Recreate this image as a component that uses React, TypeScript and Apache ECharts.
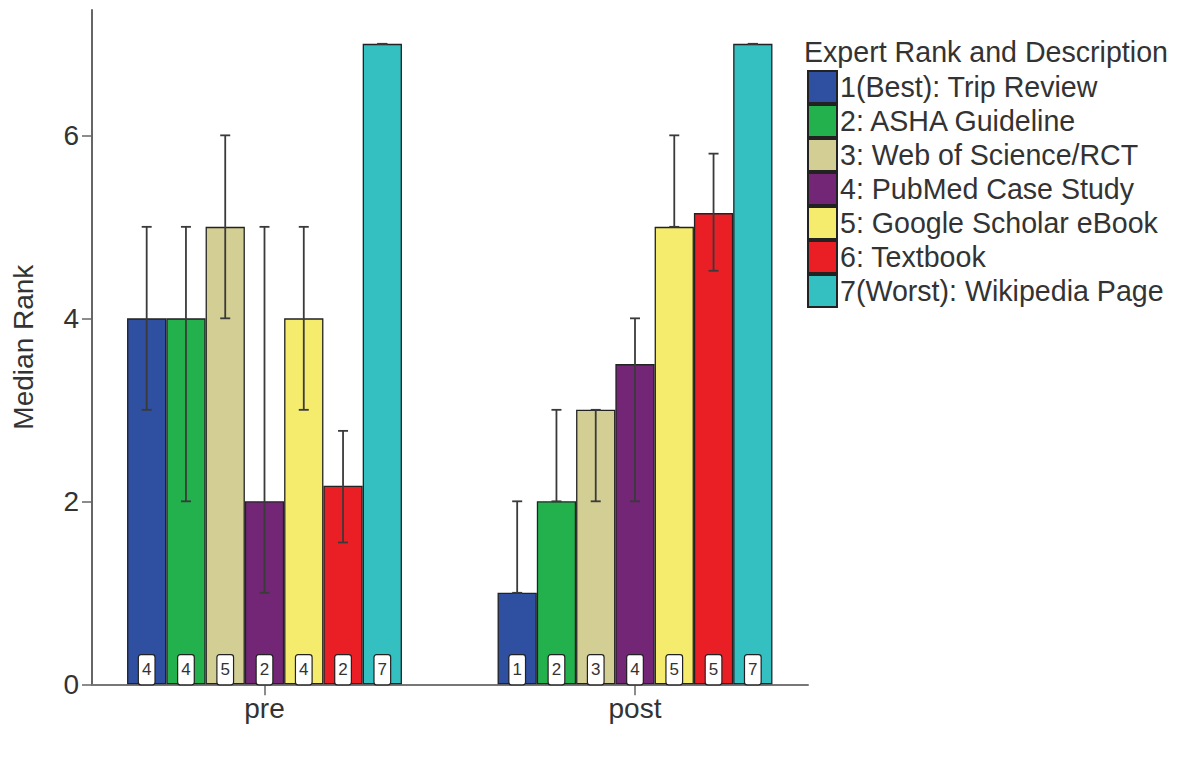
import React, { useEffect, useRef } from "react";
import * as echarts from "echarts";

// Phases of the study
const phases = ["pre", "post"];

// Sources, in expert rank order
const sources = [
  "1(Best): Trip Review",
  "2: ASHA Guideline",
  "3: Web of Science/RCT",
  "4: PubMed Case Study",
  "5: Google Scholar eBook",
  "6: Textbook",
  "7(Worst): Wikipedia Page",
];

const sourceColors = ["#2f4fa0", "#22b14c", "#d3ce93", "#722675", "#f5ec6e", "#ea1f26", "#34bfc1"];

// Median rank per source: [pre, post]
const medianPre = [4, 4, 5, 2, 4, 2.17, 7];
const medianPost = [1, 2, 3, 3.5, 5, 5.15, 7];

// Error bar extents per source
const lowPre = [3, 2, 4, 1, 3, 1.55, 7];
const highPre = [5, 5, 6, 5, 5, 2.77, 7];
const lowPost = [1, 2, 2, 2, 5, 4.52, 7];
const highPost = [2, 3, 3, 4, 6, 5.8, 7];

const yTicks = [0, 2, 4, 6];
const Y_MAX = 7.37;

const FONT = "'Liberation Sans', Arial, Helvetica, sans-serif";
const CATEGORY_GAP = 0.258;

export default function App() {
  const ref = useRef<HTMLDivElement>(null);

  useEffect(() => {
    if (!ref.current) return;
    const chart = echarts.init(ref.current, undefined, { renderer: "svg" });

    const barSeries = sources.map((name, i) => ({
      name,
      type: "bar",
      xAxisIndex: 0,
      yAxisIndex: 0,
      barGap: "0%",
      barCategoryGap: `${CATEGORY_GAP * 100}%`,
      data: [medianPre[i], medianPost[i]],
      itemStyle: { color: sourceColors[i], borderColor: "#222", borderWidth: 1.3 },
      label: {
        show: true,
        position: "insideBottom",
        distance: 0,
        formatter: (p: any) => String(Math.round(p.value)),
        backgroundColor: "#ffffff",
        borderColor: "#222",
        borderWidth: 1.2,
        borderRadius: 2,
        padding: [6, 3, 6, 3],
        fontSize: 17,
        lineHeight: 17,
        color: "#333",
        fontFamily: FONT,
      },
      z: 2,
    }));

    const errData: number[][] = [];
    sources.forEach((_, i) => {
      errData.push([0, i, lowPre[i], highPre[i]]);
      errData.push([1, i, lowPost[i], highPost[i]]);
    });

    const errorSeries = {
      type: "custom",
      xAxisIndex: 0,
      yAxisIndex: 0,
      z: 5,
      silent: true,
      data: errData,
      renderItem: (_params: any, api: any) => {
        const cat = api.value(0);
        const s = api.value(1);
        const lo = api.value(2);
        const hi = api.value(3);
        const band = api.size([1, 0])[0];
        const bw = (band * (1 - CATEGORY_GAP)) / sources.length;
        const base = api.coord([cat, 0]);
        const cx = base[0] + (s - (sources.length - 1) / 2) * bw;
        const yLo = api.coord([cat, lo])[1];
        const yHi = api.coord([cat, hi])[1];
        const cap = 5;
        const style = { stroke: "#3a3a3a", lineWidth: 1.8 };
        return {
          type: "group",
          children: [
            { type: "line", shape: { x1: cx, y1: yLo, x2: cx, y2: yHi }, style },
            { type: "line", shape: { x1: cx - cap, y1: yHi, x2: cx + cap, y2: yHi }, style },
            { type: "line", shape: { x1: cx - cap, y1: yLo, x2: cx + cap, y2: yLo }, style },
          ],
        };
      },
    };

    chart.setOption({
      animation: false,
      backgroundColor: "#ffffff",
      textStyle: { fontFamily: FONT },
      grid: [
        { left: 79.25, width: 741, top: 10, bottom: 73.7 },
        { left: 92, width: 716, top: 10, bottom: 73.7 },
      ],
      xAxis: [
        {
          type: "category",
          gridIndex: 0,
          data: phases,
          axisLine: { show: false },
          axisTick: { show: true, alignWithLabel: true, length: 11, lineStyle: { color: "#666", width: 1.5 } },
          axisLabel: { fontSize: 28, color: "#333", margin: 10, fontFamily: FONT },
        },
        {
          type: "value",
          gridIndex: 1,
          min: 0,
          max: 1,
          axisLine: { show: true, lineStyle: { color: "#777", width: 2 } },
          axisTick: { show: false },
          axisLabel: { show: false },
          splitLine: { show: false },
        },
      ],
      yAxis: [
        { type: "value", gridIndex: 0, min: 0, max: Y_MAX, show: false, splitLine: { show: false } },
        {
          type: "value",
          gridIndex: 1,
          min: 0,
          max: Y_MAX,
          interval: 2,
          name: "Median Rank",
          nameLocation: "middle",
          nameGap: 55,
          nameTextStyle: { fontSize: 28, color: "#333", fontFamily: FONT },
          axisLine: { show: true, lineStyle: { color: "#666", width: 2 } },
          axisTick: { show: true, length: 10, customValues: yTicks, lineStyle: { color: "#666", width: 1.5 } },
          axisLabel: { fontSize: 28, color: "#333", margin: 13, customValues: yTicks, fontFamily: FONT },
          splitLine: { show: false },
        },
      ],
      legend: {
        orient: "vertical",
        left: 807,
        top: 70,
        itemWidth: 29,
        itemHeight: 32,
        itemGap: 0,
        icon: "rect",
        padding: 0,
        selectedMode: false,
        data: sources,
        textStyle: { fontSize: 28.6, color: "#333", fontFamily: FONT, padding: [0, 0, 0, -2] },
      },
      graphic: [
        {
          type: "text",
          left: 804,
          top: 37,
          style: {
            text: "Expert Rank and Description",
            fontSize: 28.6,
            fill: "#333",
            fontFamily: FONT,
          },
        },
      ],
      series: [...barSeries, errorSeries],
    });

    return () => chart.dispose();
  }, []);

  return (
    <div
      ref={ref}
      style={{ position: "absolute", left: 0, top: 0, width: 1177, height: 758 }}
    />
  );
}
